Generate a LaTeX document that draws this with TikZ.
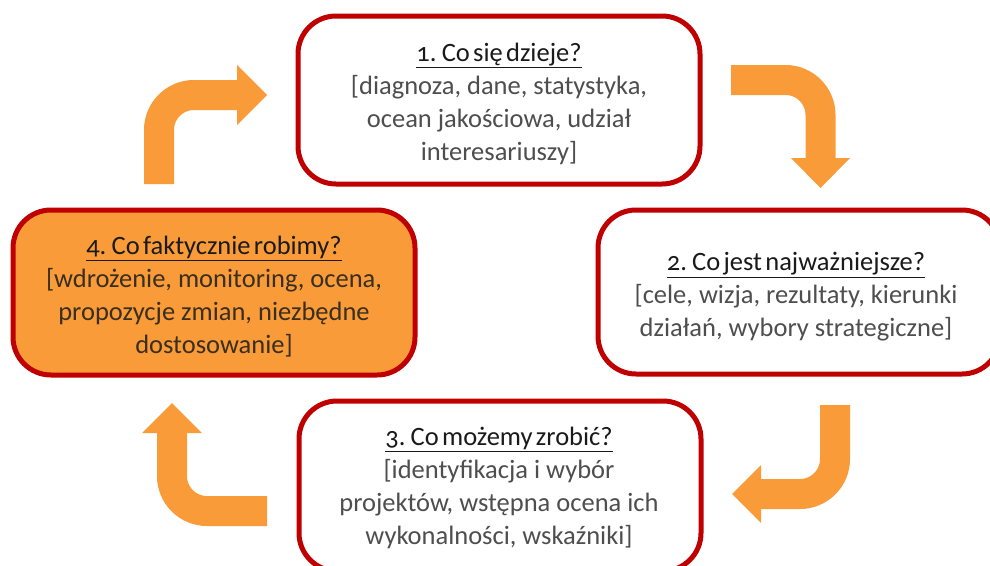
\documentclass[tikz,border=0pt]{standalone}
\usepackage{fontspec}
\setmainfont{Carlito}
\newfontfamily\titlefont[Numbers=OldStyle,WordSpace=0.55]{Carlito}
\definecolor{boxred}{HTML}{C00000}
\definecolor{arrorange}{HTML}{F99B38}
\definecolor{bodygray}{HTML}{4E4E4E}
\definecolor{bodybrown}{HTML}{3A2E1F}
\definecolor{titleblack}{HTML}{1A1A1A}
\tikzset{
  cyclebox/.style={draw=boxred, line width=5pt, rounded corners=38pt, fill=white,
    minimum width=402pt, inner sep=0pt},
  boxtext/.style={align=center, font=\fontsize{26.5}{33}\selectfont, text=bodygray, inner sep=0pt},
  arrowbody/.style={draw=arrorange, line width=30pt, rounded corners=35pt},
  arrowhead/.style={fill=arrorange},
}
\newcommand{\boxtitle}[1]{{\color{titleblack}\titlefont\underline{#1}}}
\begin{document}
\begin{tikzpicture}[x=1pt,y=-1pt]
\useasboundingbox (0,0) rectangle (990,565);

% boxes
\node[cyclebox, minimum height=168pt] (b1) at (499,100) {};
\node[cyclebox, minimum height=164pt] (b2) at (799,292) {};
\node[cyclebox, minimum height=170pt] (b3) at (500,486) {};
\node[cyclebox, minimum height=165pt, fill=arrorange] (b4) at (214,292.5) {};

% texts
\node[boxtext] (t1) at ([yshift=-4pt]b1.center)
  {\boxtitle{1. Co się dzieje?}\\{}[diagnoza, dane, statystyka,\\ocean jakościowa, udział\\interesariuszy]};
\node[boxtext] (t2) at ([yshift=-5pt,xshift=-3pt]b2.center)
  {\boxtitle{2. Co jest najważniejsze?}\\{}[cele, wizja, rezultaty, kierunki\\działań, wybory strategiczne]};
\node[boxtext] (t3) at ([yshift=-2pt,xshift=-1pt]b3.center)
  {\boxtitle{3. Co możemy zrobić?}\\{}[identyfikacja i wybór\\projektów, wstępna ocena ich\\wykonalności, wskaźniki]};
\node[boxtext, text=bodybrown] (t4) at ([yshift=-4pt]b4.center)
  {\boxtitle{4. Co faktycznie robimy?}\\{}[wdrożenie, monitoring, ocena,\\propozycje zmian, niezbędne\\dostosowanie]};

% arrow 4 -> 1
\coordinate (a1s) at (159,184);
\coordinate (a1c) at (159,95);
\coordinate (a1h) at (238,95);
\draw[arrowbody] (a1s) -- (a1c) -- (a1h);
\fill[arrowhead] (237,65) -- (267,95) -- (237,125) -- cycle;

% arrow 1 -> 2
\coordinate (a2s) at (731,80);
\coordinate (a2c) at (820.5,80);
\coordinate (a2h) at (820.5,159);
\draw[arrowbody] (a2s) -- (a2c) -- (a2h);
\fill[arrowhead] (791,158) -- (820.5,188) -- (850,158) -- cycle;

% arrow 2 -> 3
\coordinate (a3s) at (835,405);
\coordinate (a3c) at (835,494);
\coordinate (a3h) at (760,494);
\draw[arrowbody] (a3s) -- (a3c) -- (a3h);
\fill[arrowhead] (761,465) -- (732,494) -- (761,523) -- cycle;

% arrow 3 -> 4
\coordinate (a4s) at (267,511);
\coordinate (a4c) at (172,511);
\coordinate (a4h) at (172,432);
\draw[arrowbody] (a4s) -- (a4c) -- (a4h);
\fill[arrowhead] (142,433) -- (172,403) -- (202,433) -- cycle;
\end{tikzpicture}
\end{document}
